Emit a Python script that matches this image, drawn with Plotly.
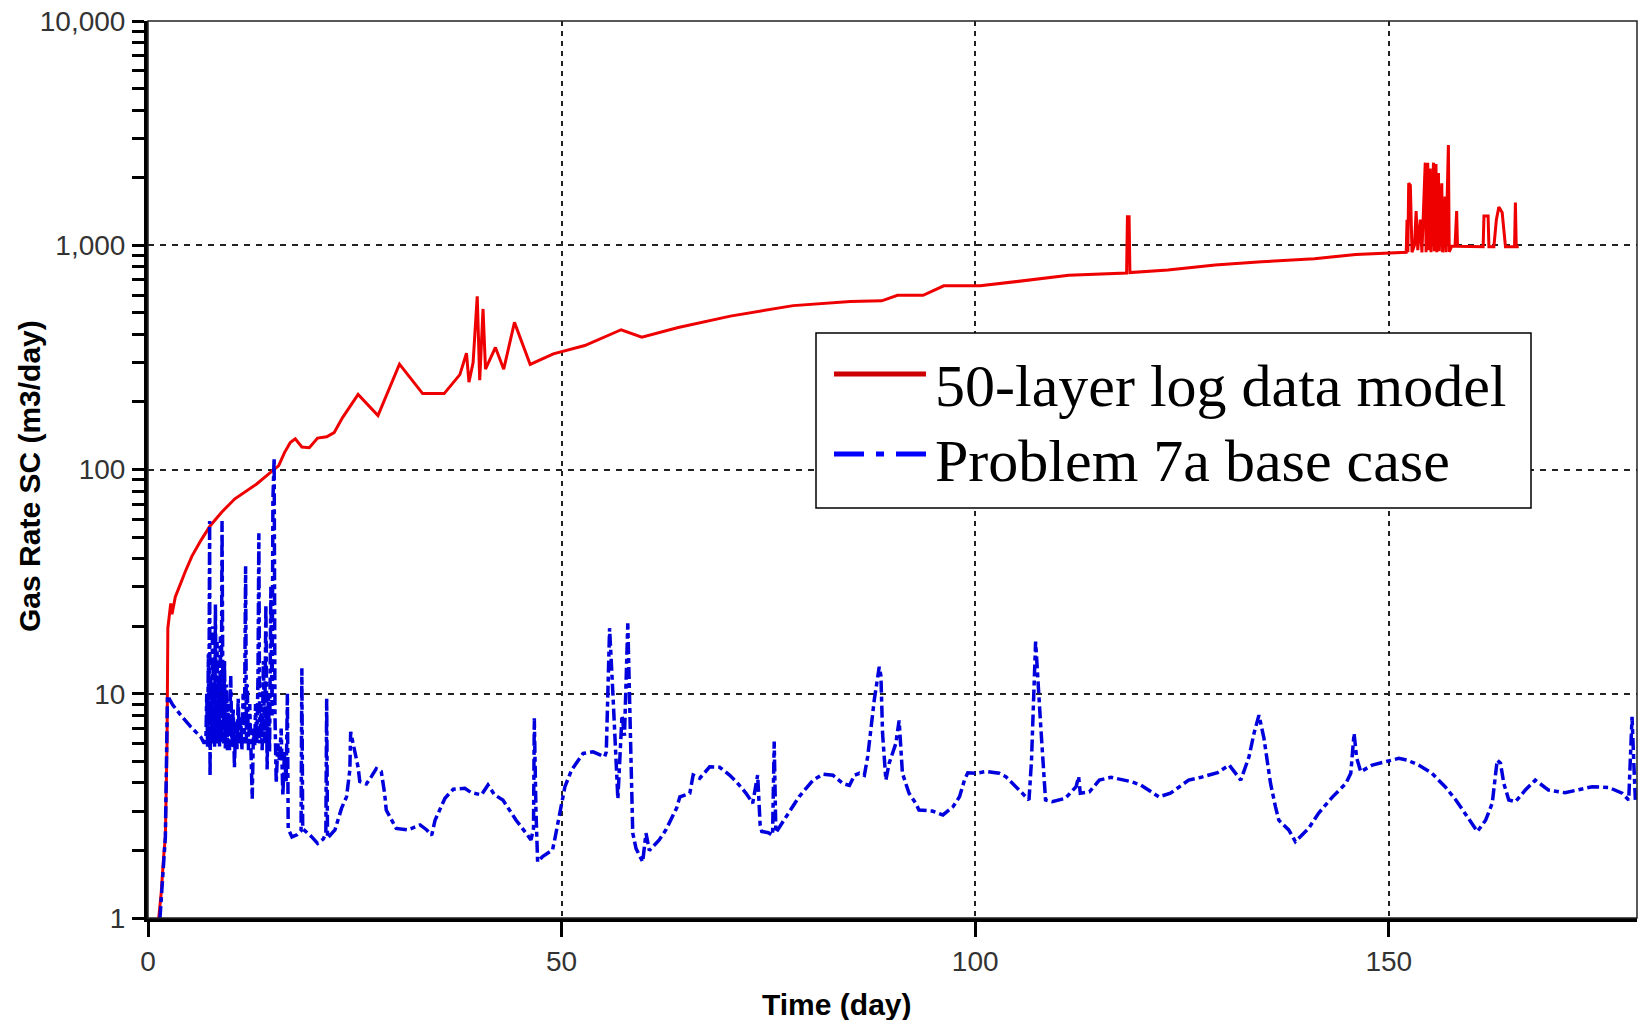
import plotly.graph_objects as go

# ---------------- data ----------------
red_day = [1.3, 1.6, 1.9, 2.1, 2.3, 2.35, 2.4, 2.75, 2.9, 3.3, 3.8, 4.5, 5.3, 6.4, 7.5, 8.9, 10.5, 12.0,
           13.1, 14.2, 15.25, 15.8, 16.5, 17.2, 17.8, 18.6, 19.5, 20.5, 21.6, 22.5, 23.5, 25.4, 27.8,
           30.4, 33.2, 35.8, 37.7, 38.5, 38.8, 39.3, 39.8, 40.1, 40.5, 40.8, 42.0, 43.0, 44.3, 46.2,
           49.0, 52.8, 57.2, 59.7, 64.1, 70.4, 78.0, 84.9, 88.7, 90.6, 93.7, 96.2, 100.6, 106.3, 111.3,
           118.3, 118.4, 118.6, 118.7, 123.3, 129.0, 134.6, 141.0, 146.0, 151.0, 152.1, 152.2, 152.3,
           152.4, 152.6, 152.8, 153.1, 153.3, 153.5, 153.8, 154.0, 154.4, 154.5, 154.7, 154.8, 155.0,
           155.1, 155.4, 155.5, 155.7, 155.8, 156.0, 156.1, 156.4, 156.5, 156.8, 156.9, 157.2, 157.3,
           157.6, 158.0, 158.2, 158.3, 161.4, 161.5, 162.0, 162.1, 162.7, 163.0, 163.3, 163.7, 164.1,
           165.2, 165.3, 165.4, 165.7]
red_rate = [1.0, 1.3, 1.9, 2.3, 6.0, 10.0, 19.6, 25.3, 22.6, 27.0, 30.2, 35.0, 41.0, 48.3, 56.0, 64.5,
            74.0, 81.0, 86.0, 93.0, 100.0, 104.0, 119.0, 132.0, 137.0, 126.0, 125.0, 138.0, 140.0,
            146.0, 170.0, 216.0, 174.0, 295.0, 218.0, 218.0, 265.0, 330.0, 245.0, 300.0, 592.0, 250.0,
            520.0, 280.0, 350.0, 280.0, 453.0, 294.0, 328.0, 357.0, 420.0, 389.0, 430.0, 483.0, 538.0,
            561.0, 565.0, 598.0, 598.0, 659.0, 659.0, 696.0, 734.0, 752.0, 1340.0, 1340.0, 755.0,
            775.0, 817.0, 844.0, 871.0, 910.0, 930.0, 930.0, 1300.0, 930.0, 1890.0, 1850.0, 930.0,
            1000.0, 1420.0, 950.0, 1300.0, 930.0, 2335.0, 930.0, 2335.0, 950.0, 2200.0, 930.0, 2335.0,
            940.0, 2300.0, 930.0, 2100.0, 940.0, 1890.0, 930.0, 1650.0, 930.0, 2800.0, 935.0, 990.0,
            990.0, 1420.0, 990.0, 985.0, 1350.0, 1350.0, 985.0, 985.0, 1300.0, 1480.0, 1400.0, 985.0,
            985.0, 1550.0, 985.0, 985.0]

blue_day = [1.45, 1.9, 2.1, 2.35, 2.6, 3.0, 4.0, 5.2, 6.4, 6.8,
            7.0, 7.1, 7.2, 7.3, 7.35, 7.45, 7.5, 7.6, 7.7, 7.8, 7.85, 7.95, 8.05, 8.15, 8.25, 8.35,
            8.45, 8.55, 8.65, 8.75, 8.85, 8.95, 9.05, 9.15, 9.25, 9.35, 9.5, 9.6, 9.7, 9.85, 10.0,
            10.15, 10.3, 10.45, 10.6, 10.75, 10.9, 11.05, 11.2, 11.35, 11.5, 11.65, 11.8, 11.9, 12.0,
            12.15, 12.3, 12.45, 12.6, 12.75, 12.9, 13.0, 13.15, 13.3, 13.4, 13.5, 13.65, 13.8, 13.95,
            14.1, 14.25, 14.4, 14.55, 14.7, 14.85, 15.0, 15.1, 15.25, 15.35, 15.5, 15.7, 15.9, 16.1,
            16.3, 16.5, 16.7, 16.85, 16.95,
            17.4, 18.0, 18.5, 18.6, 18.7, 19.8, 20.5, 21.2, 21.5, 21.6, 21.7,
            22.6, 23.4, 24.0, 24.4, 24.5, 25.0, 25.4, 25.6, 26.4, 27.0, 27.6, 28.2, 28.6, 28.8, 29.4,
            30.0, 31.4, 32.9, 33.7, 34.3, 34.7, 35.3, 35.9, 36.9, 38.3, 39.1, 40.3, 41.1, 41.9, 42.9,
            44.5, 45.7, 46.3, 46.6, 46.7, 46.9, 47.1, 47.7, 48.9, 49.2, 49.8, 50.4, 51.2, 52.6, 53.8,
            55.2, 55.4, 55.8, 56.2, 56.5, 56.8, 57.3, 57.6, 58.0, 58.3, 58.6, 59.0, 59.8, 60.2, 60.6,
            61.8, 62.6, 63.9, 64.3, 65.5, 65.9, 66.7, 67.9, 69.1, 70.3, 71.1, 72.3, 73.1, 73.7, 74.0,
            74.2, 75.0, 75.5, 75.7, 75.9, 76.5, 77.7, 78.7, 80.4, 81.6, 82.8, 84.0, 84.8, 85.4, 86.0,
            86.6, 87.0, 87.4, 87.8, 88.4, 88.6, 88.8, 89.2, 89.6, 90.4, 90.8, 91.0, 91.2, 92.0, 92.8,
            93.2, 94.8, 96.1, 97.3, 98.1, 98.7, 99.1, 100.1, 101.3, 102.9, 103.7, 104.9, 106.1, 106.5,
            106.8, 107.1, 107.3, 107.9, 108.3, 108.5, 109.3, 110.9, 112.2, 112.5, 112.7, 113.8, 115.0,
            116.4, 118.8, 120.0, 122.2, 123.6, 125.8, 127.3, 129.3, 130.7, 132.1, 133.1, 133.7, 134.3,
            134.9, 135.3, 135.7, 136.3, 136.7, 137.9, 138.7, 140.3, 141.5, 143.2, 144.8, 145.4, 145.8,
            146.1, 146.6, 148.0, 149.6, 151.2, 152.2, 153.6, 155.2, 156.8, 158.1, 159.3, 160.7, 161.7,
            162.5, 163.1, 163.5, 163.9, 164.5, 165.3, 166.5, 167.7, 169.3, 171.3, 172.9, 174.6, 176.6,
            178.2, 179.0, 179.4, 179.6, 179.8]
blue_rate = [1.0, 1.9, 2.3, 9.8, 9.5, 8.9, 8.0, 7.1, 6.4, 6.0,
             6.2, 10.0, 5.8, 15.0, 5.9, 59.0, 4.3, 12.0, 6.5, 20.0, 6.0, 14.0, 5.8, 25.0, 7.0, 17.0,
             6.0, 12.0, 5.8, 18.0, 6.0, 59.0, 10.0, 6.0, 14.0, 5.7, 11.0, 5.6, 9.0, 5.6, 12.0,
             5.8, 8.5, 4.7, 7.5, 5.6, 9.5, 6.0, 8.0, 5.6, 10.0, 6.0, 37.0, 6.0, 11.0,
             5.6, 9.0, 5.6, 3.4, 7.0, 5.8, 9.0, 6.0, 12.0, 52.0, 6.0, 9.0, 5.6, 14.0,
             6.0, 25.0, 4.6, 10.0, 5.5, 30.0, 8.0, 73.0, 113.0, 8.0, 4.0, 6.0, 5.0, 7.0,
             3.5, 5.5, 4.0, 10.0, 2.5,
             2.3, 2.35, 2.45, 13.0, 2.5, 2.3, 2.15, 2.25, 2.4, 9.5, 2.27,
             2.47, 3.09, 3.47, 4.57, 6.76, 5.42, 4.7, 4.06, 3.96, 4.27, 4.64, 4.5, 3.6, 3.03, 2.73,
             2.51, 2.47, 2.6, 2.47, 2.34, 2.73, 3.03, 3.42, 3.75, 3.79, 3.62, 3.54, 3.92, 3.54, 3.36,
             2.73, 2.39, 2.23, 2.5, 7.77, 3.0, 1.78, 1.88, 2.01, 2.27, 2.93, 3.85, 4.57, 5.42, 5.51,
             5.24, 5.5, 19.6, 10.0, 6.0, 3.4, 8.0, 6.5, 20.6, 8.0, 2.39, 2.04, 1.78, 2.39, 2.0,
             2.23, 2.47, 3.09, 3.47, 3.6, 4.34, 4.2, 4.72, 4.7, 4.34, 4.06, 3.6, 3.25, 4.34, 2.6,
             2.43, 2.4, 2.34, 6.12, 2.4, 2.6, 3.03, 3.47, 4.12, 4.38, 4.33, 3.98, 3.9, 4.33, 4.42,
             4.33, 5.24, 7.14, 9.4, 13.2, 12.0, 6.65, 4.12, 4.9, 6.0, 7.6, 5.7, 4.42, 3.6, 3.25,
             3.03, 3.0, 2.88, 3.13, 3.47, 4.12, 4.44, 4.42, 4.5, 4.42, 4.27, 3.85, 3.47, 3.36,
             5.0, 11.5, 17.1, 7.37, 4.42, 3.36, 3.3, 3.42, 3.85, 4.27, 3.6, 3.65, 4.12,
             4.24, 4.06, 3.92, 3.47, 3.6, 4.12, 4.24, 4.45, 4.81, 4.12, 5.24, 6.66, 8.03,
             6.34, 5.06, 3.98, 3.13, 2.73, 2.47, 2.19, 2.51, 2.93, 3.47, 3.98, 4.42, 6.66,
             5.2, 4.49, 4.81, 4.98, 5.15, 5.06, 4.81, 4.42, 3.85, 3.36, 2.88, 2.43, 2.73,
             3.25, 5.06, 4.9, 3.98, 3.36, 3.3, 3.72, 4.12, 3.72, 3.62, 3.72, 3.85, 3.82,
             3.6, 3.36, 7.89, 5.06, 3.36]

series_names = ["50-layer log data model", "Problem 7a base case"]
y_major = [1, 10, 100, 1000, 10000]
y_major_text = ["1", "10", "100", "1,000", "10,000"]
y_minor = [m * 10 ** d for d in range(4) for m in range(2, 10)]
x_ticks = [0, 50, 100, 150]
x_title = "Time (day)"
y_title = "Gas Rate SC (m3/day)"

# ---------------- figure ----------------
fig = go.Figure()
fig.add_trace(go.Scatter(x=red_day, y=red_rate, mode="lines", name=series_names[0],
                         line=dict(color="#ee0000", width=3), showlegend=False))
fig.add_trace(go.Scatter(x=blue_day, y=blue_rate, mode="lines", name=series_names[1],
                         line=dict(color="#0000dd", width=3.5, dash="12px,4px,5px,4px"),
                         showlegend=False))

# page body margin is removed by the post script below, so figure px == page px
OFF = 0
W, H = 1641, 1020
PL, PR, PT, PB = 148, 1637, 21, 918          # plot area in page pixels
L, T = PL - OFF, PT - OFF
R = W - (PR - OFF)
B = H - (PB - OFF)
pw, ph = PR - PL, PB - PT


def px(xp):
    return (xp - PL) / pw


def py(yp):
    return (PB - yp) / ph


tick_font = dict(family="Liberation Sans, Arial, sans-serif", size=28, color="#333333")

fig.update_layout(
    width=W, height=H,
    margin=dict(l=L, r=R, t=T, b=B),
    paper_bgcolor="white", plot_bgcolor="white",
    xaxis=dict(range=[0, 180], tickmode="array", tickvals=x_ticks,
               ticks="outside", ticklen=15, tickwidth=3, tickcolor="black",
               showline=True, linewidth=4, linecolor="black",
               showgrid=True, gridcolor="#222222", gridwidth=2, griddash="5px,5px",
               zeroline=False, tickfont=tick_font, ticklabelstandoff=0,
               ticklabeloverflow="allow", automargin=False),
    yaxis=dict(type="log", range=[0, 4], tickmode="array", tickvals=y_major,
               ticktext=y_major_text, ticks="outside", ticklen=12, tickwidth=3,
               tickcolor="black", showline=True, linewidth=4, linecolor="black",
               showgrid=True, gridcolor="#222222", gridwidth=2, griddash="6px,6px",
               zeroline=False, tickfont=tick_font, ticklabelstandoff=1,
               ticklabeloverflow="allow", automargin=False,
               minor=dict(tickmode="array", tickvals=y_minor, ticks="outside", ticklen=12,
                          tickwidth=3, tickcolor="black", showgrid=False)),
)

shapes = [
    # thin frame (top / right)
    dict(type="rect", xref="paper", yref="paper", x0=0, x1=1, y0=0, y1=1,
         line=dict(color="#222222", width=1.5), layer="above"),
    # legend box
    dict(type="rect", xref="paper", yref="paper", x0=px(816), x1=px(1531), y0=py(508), y1=py(333),
         line=dict(color="black", width=1.5), fillcolor="white", layer="above"),
    dict(type="line", xref="paper", yref="paper", x0=px(834), x1=px(926), y0=py(374), y1=py(374),
         line=dict(color="#cc0000", width=5), layer="above"),
    dict(type="line", xref="paper", yref="paper", x0=px(834), x1=px(926), y0=py(454), y1=py(454),
         line=dict(color="#0000ff", width=5, dash="30px,12px,8px,12px"), layer="above"),
]
fig.update_layout(shapes=shapes)

legend_font = dict(family="Liberation Serif, Times New Roman, serif", size=60, color="black")
title_font = dict(family="Liberation Sans, Arial, sans-serif", size=30, color="black")
annotations = [
    dict(text=series_names[0], xref="paper", yref="paper", x=px(933), y=py(386),
         xanchor="left", yanchor="middle", showarrow=False, font=legend_font),
    dict(text=series_names[1], xref="paper", yref="paper", x=px(933), y=py(461),
         xanchor="left", yanchor="middle", showarrow=False, font=legend_font),
    dict(text="<b>" + x_title + "</b>", xref="paper", yref="paper", x=px(837), y=py(1005),
         xanchor="center", yanchor="middle", showarrow=False, font=title_font),
    dict(text="<b>" + y_title + "</b>", xref="paper", yref="paper", x=px(29), y=py(476),
         xanchor="center", yanchor="middle", showarrow=False, font=title_font, textangle=-90),
]
fig.update_layout(annotations=annotations)

fig.write_html("out.html", config={"displayModeBar": False},
               post_script="document.body.style.margin='0px';")
